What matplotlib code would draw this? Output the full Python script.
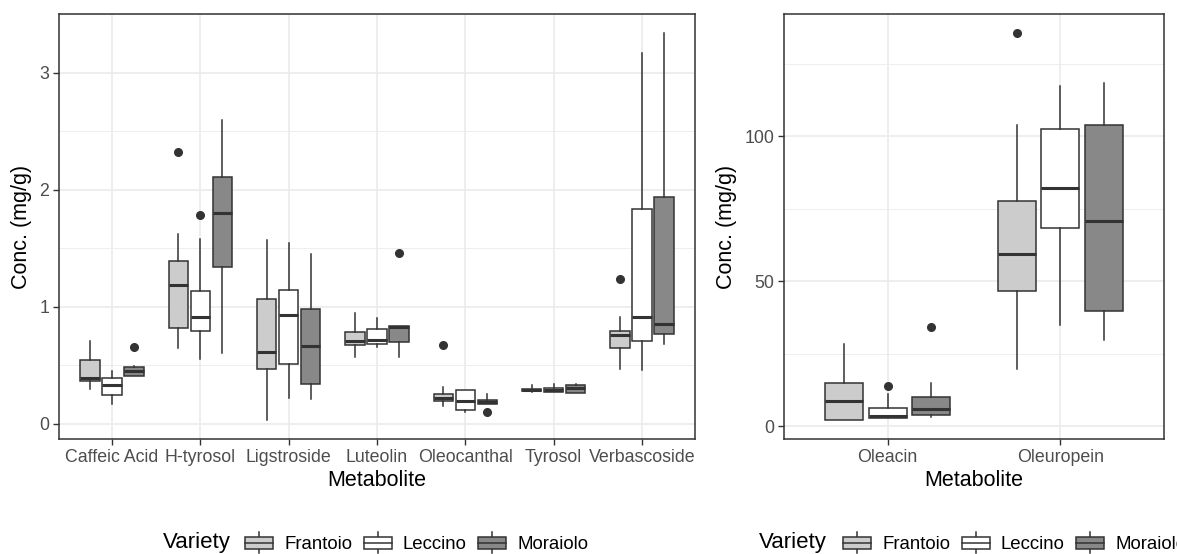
import numpy as np
import matplotlib.pyplot as plt
from matplotlib.patches import Rectangle, Patch
from matplotlib.lines import Line2D
from matplotlib.legend_handler import HandlerBase
from matplotlib.ticker import MultipleLocator

plt.rcParams['font.family'] = ['Liberation Sans', 'DejaVu Sans']

varieties = ['Frantoio', 'Leccino', 'Moraiolo']
fills = ['#CCCCCC', '#FFFFFF', '#888888']

# low-concentration metabolites, summaries as (lower whisker, Q1, median, Q3, upper whisker)
left_metabolites = ['Caffeic Acid', 'H-tyrosol', 'Ligstroside', 'Luteolin',
                    'Oleocanthal', 'Tyrosol', 'Verbascoside']
left_frantoio = [(0.297, 0.366, 0.394, 0.543, 0.709),
                 (0.645, 0.817, 1.185, 1.394, 1.622),
                 (0.034, 0.463, 0.614, 1.063, 1.568),
                 (0.566, 0.668, 0.703, 0.780, 0.943),
                 (0.148, 0.191, 0.220, 0.251, 0.311),
                 (0.272, 0.275, 0.285, 0.300, 0.328),
                 (0.469, 0.646, 0.760, 0.788, 0.908)]
left_leccino = [(0.171, 0.248, 0.331, 0.386, 0.454),
                (0.551, 0.794, 0.908, 1.137, 1.574),
                (0.223, 0.506, 0.925, 1.146, 1.548),
                (0.651, 0.680, 0.717, 0.808, 0.906),
                (0.103, 0.114, 0.197, 0.289, 0.289),
                (0.272, 0.274, 0.291, 0.308, 0.340),
                (0.457, 0.708, 0.911, 1.837, 3.165)]
left_moraiolo = [(0.411, 0.411, 0.451, 0.486, 0.497),
                 (0.603, 1.337, 1.800, 2.111, 2.596),
                 (0.208, 0.337, 0.660, 0.977, 1.448),
                 (0.566, 0.694, 0.825, 0.832, 0.835),
                 (0.166, 0.166, 0.189, 0.206, 0.257),
                 (0.260, 0.260, 0.308, 0.328, 0.340),
                 (0.680, 0.768, 0.851, 1.939, 3.336)]
left_frantoio_out = [[], [2.322], [], [], [0.671], [], [1.237]]
left_leccino_out = [[], [1.780], [], [], [], [], []]
left_moraiolo_out = [[0.657], [], [], [1.459], [0.100], [], []]

# high-concentration metabolites
right_metabolites = ['Oleacin', 'Oleuropein']
right_frantoio = [(2.3, 2.3, 8.75, 15.0, 28.5),
                  (19.7, 46.7, 59.5, 77.5, 103.7)]
right_leccino = [(2.87, 2.87, 3.45, 6.33, 11.3),
                 (35.0, 68.2, 82.1, 102.5, 117.1)]
right_moraiolo = [(3.2, 4.0, 6.1, 10.2, 15.1),
                  (29.8, 39.9, 70.9, 103.9, 118.2)]
right_frantoio_out = [[], [135.4]]
right_leccino_out = [[13.9], []]
right_moraiolo_out = [[34.4], []]

EDGE = '#333333'
GRID = '#EBEBEB'
TICKTXT = '#4D4D4D'


def draw_panel(ax, names, summaries, outliers, major, minor):
    n = len(names)
    allvals = []
    for k, (summ, outs) in enumerate(zip(summaries, outliers)):
        stats = []
        for s, o in zip(summ, outs):
            stats.append(dict(whislo=s[0], q1=s[1], med=s[2], q3=s[3],
                              whishi=s[4], fliers=o))
            allvals += list(s) + list(o)
        pos = np.arange(n) + (k - 1) * 0.25
        ax.bxp(stats, positions=pos, widths=0.22, patch_artist=True,
               showcaps=False, manage_ticks=False,
               boxprops=dict(facecolor=fills[k], edgecolor=EDGE, linewidth=1.1),
               medianprops=dict(color=EDGE, linewidth=2.2, solid_capstyle='butt'),
               whiskerprops=dict(color=EDGE, linewidth=1.1),
               flierprops=dict(marker='o', markerfacecolor=EDGE,
                               markeredgecolor=EDGE, markersize=5.5))
    # ggplot-style 5% padding around the data range
    lo, hi = min(allvals), max(allvals)
    r = hi - lo
    ax.set_ylim(lo - 0.05 * r, hi + 0.05 * r)
    ax.set_xlim(-0.6, n - 0.4)
    ax.set_xticks(np.arange(n))
    ax.set_xticklabels(names)
    ax.yaxis.set_major_locator(MultipleLocator(major))
    ax.yaxis.set_minor_locator(MultipleLocator(minor))
    ax.grid(True, which='major', color=GRID, linewidth=1.2)
    ax.grid(True, which='minor', axis='y', color=GRID, linewidth=0.6)
    ax.set_axisbelow(True)
    ax.tick_params(axis='both', which='major', length=4, width=1, color=EDGE,
                   labelsize=12.8, labelcolor=TICKTXT, pad=3)
    ax.tick_params(axis='y', which='minor', length=0)
    for sp in ax.spines.values():
        sp.set_color(EDGE)
        sp.set_linewidth(1.1)
    ax.set_xlabel('Metabolite', fontsize=15.5, labelpad=3)
    ax.set_ylabel('Conc. (mg/g)', fontsize=15.5, labelpad=5)


class BoxKey(HandlerBase):
    # small boxplot glyph for the legend keys
    def create_artists(self, legend, orig_handle, xdescent, ydescent,
                       width, height, fontsize, trans):
        x0, y0 = -xdescent, -ydescent
        cx, cy = x0 + width / 2, y0 + height / 2
        bh = height * 0.6
        whisk = Line2D([cx, cx], [y0, y0 + height], color=EDGE, lw=1.1,
                       transform=trans)
        box = Rectangle((x0, cy - bh / 2), width, bh,
                        facecolor=orig_handle.get_facecolor(),
                        edgecolor=EDGE, lw=1.1, transform=trans)
        med = Line2D([x0, x0 + width], [cy, cy], color=EDGE, lw=1.1,
                     transform=trans)
        return [whisk, box, med]


fig = plt.figure(figsize=(11.77, 5.54), dpi=100)
ax1 = fig.add_axes([59 / 1177, 115 / 554, 636 / 1177, 425 / 554])
ax2 = fig.add_axes([784 / 1177, 115 / 554, 380 / 1177, 425 / 554])

draw_panel(ax1, left_metabolites,
           [left_frantoio, left_leccino, left_moraiolo],
           [left_frantoio_out, left_leccino_out, left_moraiolo_out], 1, 0.5)
draw_panel(ax2, right_metabolites,
           [right_frantoio, right_leccino, right_moraiolo],
           [right_frantoio_out, right_leccino_out, right_moraiolo_out], 50, 25)

handles = [Patch(facecolor=c) for c in fills]
for title_x, key_x in [(231, 245), (827, 843)]:
    fig.text(title_x / 1177, 0.02, 'Variety', fontsize=16, ha='right', va='center')
    fig.legend(handles, varieties, handler_map={Patch: BoxKey()},
               loc='center left', bbox_to_anchor=(key_x / 1177, 0.02),
               ncol=3, frameon=False, fontsize=13.4, borderpad=0,
               borderaxespad=0, handlelength=1.5, handleheight=1.35,
               handletextpad=0.6, columnspacing=0.62)

fig.savefig('out.png', dpi=100)
